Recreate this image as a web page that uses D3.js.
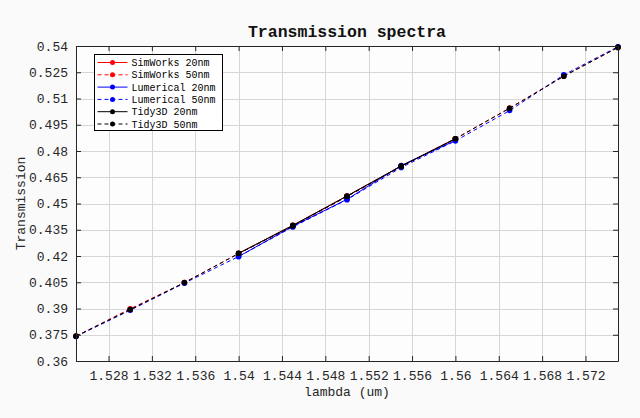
<!DOCTYPE html>
<html>
<head>
<meta charset="utf-8">
<script src="https://cdn.jsdelivr.net/npm/d3@7"></script>
<style>
  body { margin: 0; background: #fafafa; }
  svg { display: block; font-family: "Liberation Mono", monospace; }
</style>
</head>
<body>
<svg class="chart" width="640" height="418"></svg>
<script>
// wavelengths (um)
const lambda50 = [1.525, 1.53, 1.535, 1.54, 1.545, 1.55, 1.555, 1.56, 1.565, 1.57, 1.575];
const lambda20 = [1.54, 1.545, 1.55, 1.555, 1.56];

// transmission values
const simworks20 = [0.4215, 0.4375, 0.4543, 0.4714, 0.4870];
const simworks50 = [0.3742, 0.3898, 0.4048, 0.4214, 0.4372, 0.4540, 0.4712, 0.4870, 0.5045, 0.5228, 0.5392];
const lumerical20 = [0.4197, 0.4370, 0.4524, 0.4717, 0.4860];
const lumerical50 = [0.3740, 0.3890, 0.4045, 0.4197, 0.4366, 0.4522, 0.4706, 0.4858, 0.5031, 0.5235, 0.5396];
const tidy20 = [0.4215, 0.4375, 0.4543, 0.4714, 0.4870];
const tidy50 = [0.3742, 0.3894, 0.4048, 0.4214, 0.4372, 0.4540, 0.4712, 0.4870, 0.5044, 0.5227, 0.5392];

const xTicks = [1.528, 1.532, 1.536, 1.54, 1.544, 1.548, 1.552, 1.556, 1.56, 1.564, 1.568, 1.572];
const yTicks = [0.36, 0.375, 0.39, 0.405, 0.42, 0.435, 0.45, 0.465, 0.48, 0.495, 0.51, 0.525, 0.54];

const series = [
  { name: "SimWorks 20nm", x: lambda20, y: simworks20, color: "#ff0000", dash: null },
  { name: "SimWorks 50nm", x: lambda50, y: simworks50, color: "#ff0000", dash: "4,3" },
  { name: "Lumerical 20nm", x: lambda20, y: lumerical20, color: "#0000ff", dash: null },
  { name: "Lumerical 50nm", x: lambda50, y: lumerical50, color: "#0000ff", dash: "4,3" },
  { name: "Tidy3D 20nm", x: lambda20, y: tidy20, color: "#000000", dash: null },
  { name: "Tidy3D 50nm", x: lambda50, y: tidy50, color: "#000000", dash: "4,3" },
];

const svg = d3.select(".chart");
const margin = { left: 76, right: 22, top: 46, bottom: 57 };
const width = 640, height = 418;

const x = d3.scaleLinear().domain([1.525, 1.575]).range([margin.left, width - margin.right]);
const y = d3.scaleLinear().domain([0.36, 0.54]).range([height - margin.bottom, margin.top]);

svg.append("rect")
  .attr("x", margin.left).attr("y", margin.top)
  .attr("width", x.range()[1] - x.range()[0])
  .attr("height", y.range()[0] - y.range()[1])
  .attr("fill", "#fdfdfd");

// grid
const grid = svg.append("g").attr("stroke", "#d6d6d6").attr("stroke-width", 1);
grid.selectAll(".gx").data(xTicks).enter().append("line")
  .attr("x1", d => Math.round(x(d)) + 0.5).attr("x2", d => Math.round(x(d)) + 0.5)
  .attr("y1", y.range()[1]).attr("y2", y.range()[0]);
grid.selectAll(".gy").data(yTicks).enter().append("line")
  .attr("y1", d => Math.round(y(d)) + 0.5).attr("y2", d => Math.round(y(d)) + 0.5)
  .attr("x1", x.range()[0]).attr("x2", x.range()[1]);

// series
const line = d3.line().x(d => x(d[0])).y(d => y(d[1]));
series.forEach(s => {
  const pts = s.x.map((v, i) => [v, s.y[i]]);
  const g = svg.append("g");
  g.append("path")
    .attr("d", line(pts))
    .attr("fill", "none")
    .attr("stroke", s.color)
    .attr("stroke-width", 1)
    .attr("stroke-dasharray", s.dash);
  g.selectAll("circle").data(pts).enter().append("circle")
    .attr("cx", d => x(d[0])).attr("cy", d => y(d[1]))
    .attr("r", 2.8)
    .attr("fill", s.color);
});

// axes (box with inward ticks)
const tickLen = 5;
const axisColor = "#262626";
const xAxisB = d3.axisBottom(x).tickValues(xTicks).tickSizeInner(-tickLen).tickSizeOuter(0)
  .tickPadding(10).tickFormat(d => String(+d.toFixed(3)));
const xAxisT = d3.axisTop(x).tickValues(xTicks).tickSizeInner(-tickLen).tickSizeOuter(0).tickFormat("");
const yAxisL = d3.axisLeft(y).tickValues(yTicks).tickSizeInner(-tickLen).tickSizeOuter(0)
  .tickPadding(8).tickFormat(d => String(+d.toFixed(3)));
const yAxisR = d3.axisRight(y).tickValues(yTicks).tickSizeInner(-tickLen).tickSizeOuter(0).tickFormat("");

function styleAxis(g) {
  g.selectAll("path, line").attr("stroke", axisColor);
  g.selectAll("text").attr("fill", "#262626").attr("font-size", 13)
    .attr("font-family", "Liberation Mono, monospace");
}

svg.append("g").attr("transform", `translate(0,${y.range()[0]})`).call(xAxisB).call(styleAxis);
svg.append("g").attr("transform", `translate(0,${y.range()[1]})`).call(xAxisT).call(styleAxis);
svg.append("g").attr("transform", `translate(${x.range()[0]},0)`).call(yAxisL).call(styleAxis);
svg.append("g").attr("transform", `translate(${x.range()[1]},0)`).call(yAxisR).call(styleAxis);

// labels
svg.append("text")
  .attr("x", (x.range()[0] + x.range()[1]) / 2).attr("y", 37)
  .attr("text-anchor", "middle").attr("font-size", 16.5).attr("font-weight", "bold")
  .attr("fill", "#111").text("Transmission spectra");
svg.append("text")
  .attr("x", (x.range()[0] + x.range()[1]) / 2).attr("y", 396)
  .attr("text-anchor", "middle").attr("font-size", 13).attr("fill", "#262626")
  .text("lambda (um)");
svg.append("text")
  .attr("transform", `translate(25,${(y.range()[0] + y.range()[1]) / 2}) rotate(-90)`)
  .attr("text-anchor", "middle").attr("font-size", 13).attr("fill", "#262626")
  .text("Transmission");

// legend
const legend = svg.append("g").attr("transform", "translate(94.5,54.5)");
legend.append("rect").attr("width", 128).attr("height", 76)
  .attr("fill", "#ffffff").attr("stroke", "#000").attr("stroke-width", 1);
const item = legend.selectAll(".item").data(series).enter().append("g")
  .attr("transform", (d, i) => `translate(0,${8 + i * 12.3})`);
item.append("line").attr("x1", 3).attr("x2", 33)
  .attr("stroke", d => d.color).attr("stroke-dasharray", d => d.dash);
item.append("circle").attr("cx", 18).attr("r", 2.5).attr("fill", d => d.color);
item.append("text").attr("x", 37).attr("dy", "0.35em")
  .attr("font-size", 10).attr("fill", "#000").text(d => d.name);
</script>
</body>
</html>
